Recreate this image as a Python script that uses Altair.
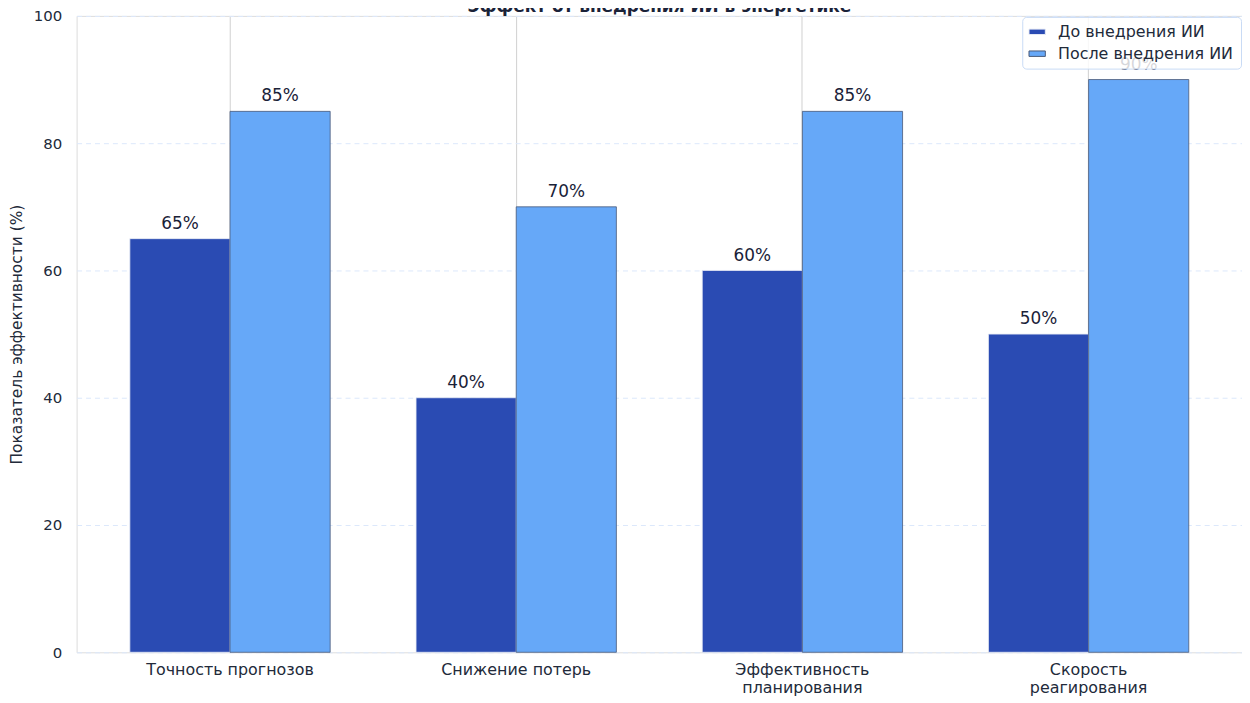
import altair as alt
import pandas as pd

title_text = ["Эффект от внедрения ИИ в энергетике"]
categories = ["Точность прогнозов", "Снижение потерь", "Эффективность\nпланирования", "Скорость\nреагирования"]
series = ["До внедрения ИИ", "После внедрения ИИ"]
before = [65, 40, 60, 50]
after = [85, 70, 85, 90]
y_ticks = [0, 20, 40, 60, 80, 100]

rows = []
for c, b, a in zip(categories, before, after):
    rows.append({"cat": c, "series": series[0], "value": b})
    rows.append({"cat": c, "series": series[1], "value": a})
df = pd.DataFrame(rows)

W, H = 1172, 640
FONT = "DejaVu Sans"
TXT = "#222a3a"

x = alt.X("cat:N", sort=categories, title=None,
          scale=alt.Scale(paddingInner=0.3, paddingOuter=0.186),
          axis=alt.Axis(labelAngle=0, labelExpr="split(datum.label, '\\n')",
                        labelFontSize=16, labelColor=TXT, labelPadding=9,
                        labelFont=FONT, labelLineHeight=18, labelBaseline="top",
                        domain=False, ticks=False, grid=True, gridColor="#d0d0d0",
                        gridWidth=1))
xoff = alt.XOffset("series:N", sort=series, scale=alt.Scale(paddingInner=0, paddingOuter=0))
y = alt.Y("value:Q", scale=alt.Scale(domain=[0, 100], nice=False),
          title="Показатель эффективности (%)",
          axis=alt.Axis(values=y_ticks, labelFontSize=15, labelColor=TXT,
                        labelPadding=15, labelFont=FONT,
                        titleFontSize=15.5, titleFontWeight="normal", titleColor=TXT,
                        titleFont=FONT, titlePadding=9,
                        domain=False, ticks=False, grid=True, gridColor="#dce8fb",
                        gridDash=[5, 4], gridWidth=1))

color = alt.Color("series:N", sort=series,
                  scale=alt.Scale(domain=series, range=["#2a4bb3", "#66a8f8"]),
                  legend=alt.Legend(title=None, orient="top-right", offset=1,
                                    symbolType="M-1.5,-0.5H1.5V0.5H-1.5Z", symbolSize=120,
                                    symbolStrokeColor="#4a5a78", symbolStrokeWidth=1,
                                    labelFontSize=16, labelColor=TXT, labelFont=FONT,
                                    labelLimit=400,
                                    fillColor="rgba(255,255,255,0.82)", strokeColor="#c9dbf5",
                                    cornerRadius=4, padding=7, rowPadding=6, labelOffset=13,
                                    symbolOpacity=1))

stroke = alt.Stroke("series:N", sort=series,
                    scale=alt.Scale(domain=series, range=["#e8ecf5", "#4a5a78"]), legend=None)

bars = alt.Chart(df).mark_bar(strokeWidth=0.8, opacity=1).encode(
    x=x, xOffset=xoff, y=y, color=color, stroke=stroke)

labels = alt.Chart(df).mark_text(baseline="bottom", dy=-6, fontSize=17, color="#1a2238",
                                 font=FONT).encode(
    x=alt.X("cat:N", sort=categories), xOffset=alt.XOffset("series:N", sort=series),
    y="value:Q", text=alt.Text("label:N")).transform_calculate(
    label="datum.value + '%'")

title_mark = alt.Chart(pd.DataFrame({"t": title_text})).mark_text(
    baseline="alphabetic", align="center", fontSize=17, fontWeight="bold",
    color="#1a2238", font=FONT).encode(
    x=alt.value(W / 2), y=alt.value(-4), text="t:N")

chart = alt.layer(bars, labels, title_mark).properties(
    width=W, height=H,
    autosize=alt.AutoSizeParams(type="none"),
    padding={"left": 69, "top": 6, "right": 0, "bottom": 42},
).configure_view(fill="#f8f9fd", stroke="#cfcfcf", strokeWidth=1.5
).configure(background="white")

chart.save("out.html", embed_options={"renderer": "svg", "actions": False})
